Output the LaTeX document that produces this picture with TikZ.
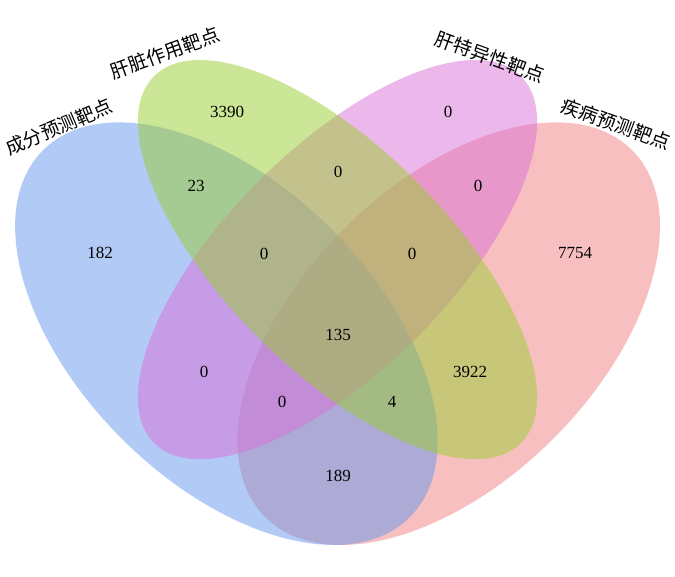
\documentclass[tikz,border=0pt]{standalone}
\usepackage{fontspec}
\setmainfont{Liberation Serif}
\newfontfamily\cjk{Noto Sans CJK SC}
\definecolor{vblue}{RGB}{100,149,237}
\definecolor{vgreen}{RGB}{154,205,50}
\definecolor{vpurple}{RGB}{218,112,214}
\definecolor{vpink}{RGB}{240,128,128}
\begin{document}
\begin{tikzpicture}[x=1pt,y=1pt, font=\fontsize{17}{17}\selectfont,
    setfill/.style={fill opacity=.5},
    setname/.style={font=\cjk\fontsize{19}{20}\selectfont, inner sep=0pt}]
    \def\ra{259.4pt} \def\rwide{148.2pt} \def\rthin{111.2pt} % Bán trục
    \useasboundingbox (0,0) rectangle (675,577);
    % các tập hợp
    \fill[vpink, setfill, shift={(448.7,243.3)}, rotate=45] (0,0) ellipse [x radius=\ra, y radius=\rwide];
    \fill[vblue, setfill, shift={(226.4,243.3)}, rotate=-45] (0,0) ellipse [x radius=\ra, y radius=\rwide];
    \fill[vpurple, setfill, shift={(337.5,317.4)}, rotate=45] (0,0) ellipse [x radius=\ra, y radius=\rthin];
    \fill[vgreen, setfill, shift={(337.5,317.4)}, rotate=-45] (0,0) ellipse [x radius=\ra, y radius=\rthin];
    % tên tập hợp
    \node[setname, rotate=23] (tA) at (59,450) {成分预测靶点};
    \node[setname, rotate=20] (tB) at (165,524) {肝脏作用靶点};
    \node[setname, rotate=-20] (tC) at (490,520) {肝特异性靶点};
    \node[setname, rotate=-20] (tD) at (616,453) {疾病预测靶点};
    % số phần tử
    \node (nA) at (100,324) {182};
    \node (nB) at (227,465) {3390};
    \node (nC) at (448,465) {0};
    \node (nD) at (575,324) {7754};
    \node (nAB) at (196,391) {23};
    \node (nBC) at (338,405) {0};
    \node (nCD) at (478,391) {0};
    \node (nABC) at (264,323) {0};
    \node (nBCD) at (412,323) {0};
    \node (nABCD) at (338,242) {135};
    \node (nAC) at (204,205) {0};
    \node (nACD) at (282,175) {0};
    \node (nABD) at (392,175) {4};
    \node (nBD) at (470,205) {3922};
    \node (nAD) at (338,101) {189};
\end{tikzpicture}
\end{document}
